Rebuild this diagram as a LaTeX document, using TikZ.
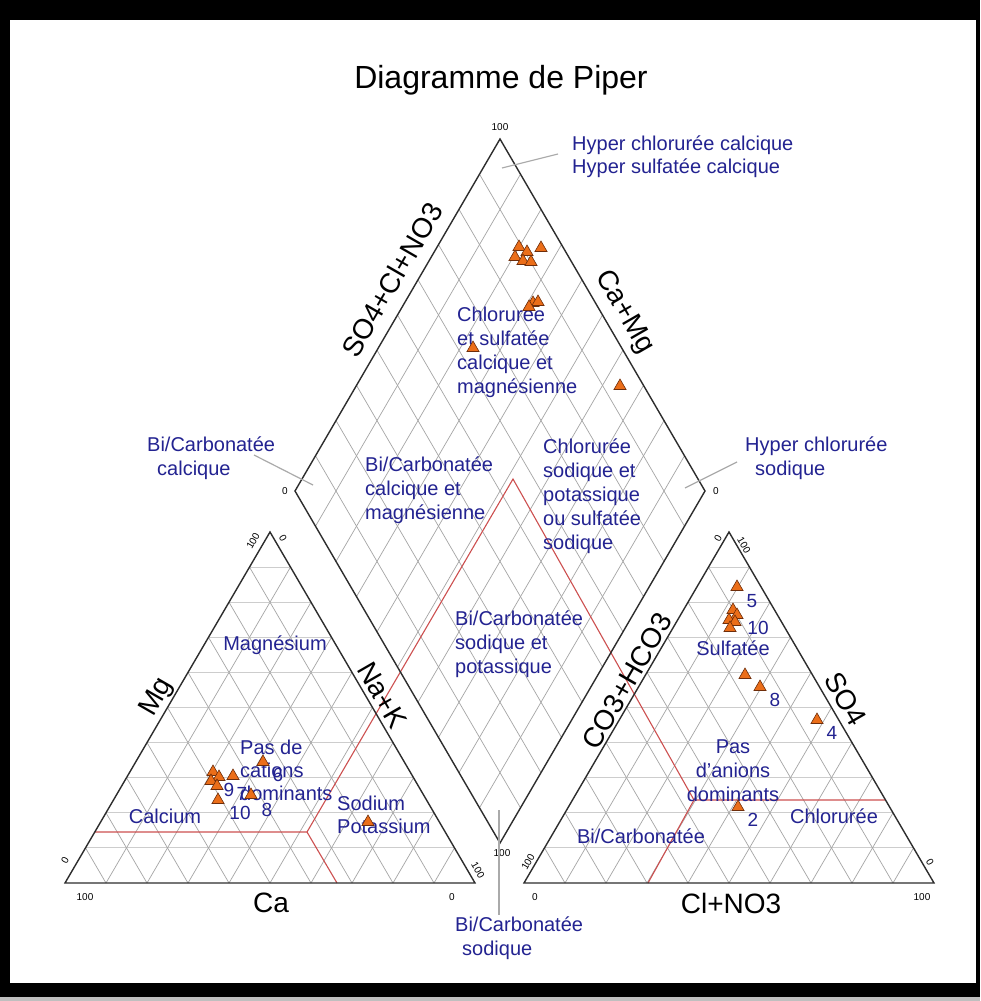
\documentclass[tikz,border=0pt]{standalone}
\usepackage{fontspec}
\setmainfont{Liberation Sans}
\usetikzlibrary{calc,shapes.geometric}
\definecolor{navy}{RGB}{35,35,145}
\definecolor{gridc}{RGB}{165,165,165}
\definecolor{gridh}{RGB}{205,205,205}
\definecolor{redl}{RGB}{205,80,80}
\definecolor{mkfill}{RGB}{235,110,25}
\definecolor{mkdraw}{RGB}{110,45,10}
\definecolor{edgec}{RGB}{45,45,45}
\definecolor{callc}{RGB}{170,170,170}
\begin{document}
\begin{tikzpicture}[x=1pt,y=-1pt,
  lab/.style={text=navy,font=\fontsize{20}{24}\selectfont,inner sep=1pt},
  labl/.style={lab,align=left},
  labc/.style={lab,align=center},
  num/.style={text=navy,font=\fontsize{19}{22}\selectfont,inner sep=0pt},
  axislab/.style={font=\fontsize{28}{32}\selectfont,inner sep=0pt},
  ticklab/.style={font=\fontsize{10}{12}\selectfont,inner sep=0pt},
  outline/.style={draw=edgec,line width=1.4pt,line join=miter},
  gd/.style={draw=gridc,line width=0.7pt},
  gh/.style={draw=gridh,line width=0.9pt},
  redline/.style={draw=redl,line width=1.1pt},
  callout/.style={draw=callc,line width=1.2pt},
  mk/.style={regular polygon,regular polygon sides=3,minimum size=14pt,inner sep=0pt,fill=mkfill,draw=mkdraw,line width=0.6pt}
]
\useasboundingbox (0,0) rectangle (980,1001);
\fill[white] (0,0) rectangle (980,1001);
% frame
\fill[black] (0,0) rectangle (980,20);
\fill[black] (0,0) rectangle (10,997);
\fill[black] (976,0) rectangle (980,997);
\fill[black] (0,983) rectangle (980,997);
\fill[black!25] (0,997) rectangle (980,1001);

% vertices
\coordinate (lBL) at (65,883);
\coordinate (lBR) at (475,883);
\coordinate (lA) at (270,532);
\coordinate (rBL) at (524,883);
\coordinate (rBR) at (934,883);
\coordinate (rA) at (729,532);
\coordinate (dB) at (500,843);
\coordinate (dL) at (295,491);
\coordinate (dR) at (705,491);
\coordinate (dT) at (500,139);

% grids
\foreach \k in {1,...,9}{
  \pgfmathsetmacro\t{\k/10}
  \draw[gh] ($(lBL)!\t!(lA)$) -- ($(lBR)!\t!(lA)$);
  \draw[gd] ($(lBL)!\t!(lBR)$) -- ($(lA)!\t!(lBR)$);
  \draw[gd] ($(lBL)!\t!(lBR)$) -- ($(lBL)!\t!(lA)$);
  \draw[gh] ($(rBL)!\t!(rA)$) -- ($(rBR)!\t!(rA)$);
  \draw[gd] ($(rBL)!\t!(rBR)$) -- ($(rA)!\t!(rBR)$);
  \draw[gd] ($(rBL)!\t!(rBR)$) -- ($(rBL)!\t!(rA)$);
  \draw[gd] ($(dB)!\t!(dL)$) -- ($(dR)!\t!(dT)$);
  \draw[gd] ($(dB)!\t!(dR)$) -- ($(dL)!\t!(dT)$);
}

% red classification lines
\coordinate (redL) at (94.8,832);
\coordinate (redJ1) at (307,832);
\coordinate (redB1) at (337,883);
\coordinate (redAp) at (513,479);
\coordinate (redJ2) at (694,800);
\coordinate (redR) at (885.5,800);
\coordinate (redB2) at (648,883);
\draw[redline] (redL) -- (redJ1) -- (redAp) -- (redJ2) -- (redR);
\draw[redline] (redJ1) -- (redB1);
\draw[redline] (redJ2) -- (redB2);

% outlines
\draw[outline] (lBL) -- (lBR) -- (lA) -- cycle;
\draw[outline] (rBL) -- (rBR) -- (rA) -- cycle;
\draw[outline] (dB) -- (dR) -- (dT) -- (dL) -- cycle;

% title
\node[font=\fontsize{32}{36}\selectfont] (title) at (501,80) {Diagramme de Piper};

% axis labels
\node[axislab,rotate=60] (axMg) at (157,697) {Mg};
\node[axislab,rotate=-60] (axNaK) at (382,695) {Na+K};
\node[axislab] (axCa) at (271,903) {Ca};
\node[axislab] (axCl) at (731,903) {Cl+NO3};
\node[axislab,rotate=60] (axCO3) at (627,681) {CO3+HCO3};
\node[axislab,rotate=-60] (axSO4) at (846,699) {SO4};
\node[axislab,rotate=60] (axAn) at (392,280) {SO4+Cl+NO3};
\node[axislab,rotate=-60] (axCaMg) at (624,312) {Ca+Mg};

% tick labels
\node[ticklab] (tDT) at (500,127) {100};
\node[ticklab] (tDL) at (285,491) {0};
\node[ticklab] (tDR) at (716,491) {0};
\node[ticklab] (tDB) at (502,853) {100};
\node[ticklab,rotate=60] (tLA1) at (253,541) {100};
\node[ticklab,rotate=-60] (tLA2) at (283,538) {0};
\node[ticklab,rotate=60] (tLBL1) at (65,860) {0};
\node[ticklab] (tLBL2) at (85,897) {100};
\node[ticklab,rotate=-60] (tLBR1) at (478,870) {100};
\node[ticklab] (tLBR2) at (452,897) {0};
\node[ticklab,rotate=60] (tRA1) at (718,538) {0};
\node[ticklab,rotate=-60] (tRA2) at (744,545) {100};
\node[ticklab,rotate=60] (tRBL1) at (528,862) {100};
\node[ticklab] (tRBL2) at (535,897) {0};
\node[ticklab,rotate=-60] (tRBR1) at (930,862) {0};
\node[ticklab] (tRBR2) at (922,897) {100};

% region labels: left triangle
\node[lab] (lMg) at (275,645) {Magnésium};
\node[lab] (lCa) at (165,816) {Calcium};
\node[labl,anchor=west,font=\fontsize{20}{23}\selectfont] (lNone) at (239,770) {Pas de\\cations\\dominants};
\node[labl,anchor=west,font=\fontsize{20}{23}\selectfont] (lNa) at (336,815) {Sodium\\Potassium};

% right triangle
\node[lab] (rSul) at (733,648) {Sulfatée};
\node[labc,font=\fontsize{20}{24}\selectfont] (rNone) at (733,771) {Pas\\d'anions\\dominants};
\node[lab] (rChl) at (834,816) {Chlorurée};
\node[lab] (rBic) at (641,836) {Bi/Carbonatée};

% diamond
\node[labl,anchor=west] (dChS) at (456,352) {Chlorurée\\et sulfatée\\calcique et\\magnésienne};
\node[labl,anchor=west] (dBiC) at (364,490) {Bi/Carbonatée\\calcique et\\magnésienne};
\node[labl,anchor=west] (dChN) at (542,496) {Chlorurée\\sodique et\\potassique\\ou sulfatée\\sodique};
\node[labl,anchor=west] (dBiN) at (454,644) {Bi/Carbonatée\\sodique et\\potassique};

% outside labels with callouts
\node[labl,anchor=west,font=\fontsize{20}{23}\selectfont] (oHC) at (571,157) {Hyper chlorurée calcique\\Hyper sulfatée calcique};
\node[labl,anchor=west] (oBC) at (146,458) {Bi/Carbonatée\\\hspace{10pt}calcique};
\node[labl,anchor=west] (oHS) at (744,458) {Hyper chlorurée\\\hspace{10pt}sodique};
\node[labl,anchor=west] (oBS) at (454,938) {Bi/Carbonatée\\\hspace{7pt}sodique};
\coordinate (cHCa) at (558,154);
\coordinate (cHCb) at (502,168);
\coordinate (cBCa) at (254,455);
\coordinate (cBCb) at (313,485);
\coordinate (cHSa) at (737,462);
\coordinate (cHSb) at (685,488);
\coordinate (cBSa) at (499,810);
\draw[callout] (cHCa) -- (cHCb);
\draw[callout] (cBCa) -- (cBCb);
\draw[callout] (cHSa) -- (cHSb);
\draw[callout] (cBSa) -- (cBSa |- oBS.north);

% data points: diamond
\node[mk] (d1) at (519,247) {};
\node[mk] (d2) at (541,248) {};
\node[mk] (d3) at (527,252) {};
\node[mk] (d4) at (515,257) {};
\node[mk] (d5) at (523,261) {};
\node[mk] (d6) at (531,262) {};
\node[mk] (d7) at (533,303) {};
\node[mk] (d8) at (538,302) {};
\node[mk] (d9) at (529,307) {};
\node[mk] (d10) at (473,348) {};
\node[mk] (d11) at (620,386) {};

% data points: left triangle
\node[mk] (c1) at (213,772) {};
\node[mk] (c2) at (219,777) {};
\node[mk] (c3) at (233,776) {};
\node[mk] (c4) at (211,781) {};
\node[mk] (c5) at (217,786) {};
\node[mk] (c6) at (218,800) {};
\node[mk] (c7) at (251,795) {};
\node[mk] (c8) at (263,762) {};
\node[mk] (c9) at (368,822) {};
\node[num] (n6) at (278,775) {6};
\node[num] (n9) at (229,790) {9};
\node[num] (n7) at (242,794) {7};
\node[num] (n10) at (240,813) {10};
\node[num] (n8) at (267,810) {8};

% data points: right triangle
\node[mk] (a1) at (737,587) {};
\node[mk] (a2) at (733,610) {};
\node[mk] (a3) at (737,615) {};
\node[mk] (a4) at (729,620) {};
\node[mk] (a5) at (735,622) {};
\node[mk] (a6) at (730,628) {};
\node[mk] (a7) at (745,675) {};
\node[mk] (a8) at (760,687) {};
\node[mk] (a9) at (817,720) {};
\node[mk] (a10) at (738,807) {};
\node[num] (m5) at (752,601) {5};
\node[num] (m10) at (758,628) {10};
\node[num] (m8) at (775,700) {8};
\node[num] (m4) at (832,733) {4};
\node[num] (m2) at (753,820) {2};
\end{tikzpicture}
\end{document}
